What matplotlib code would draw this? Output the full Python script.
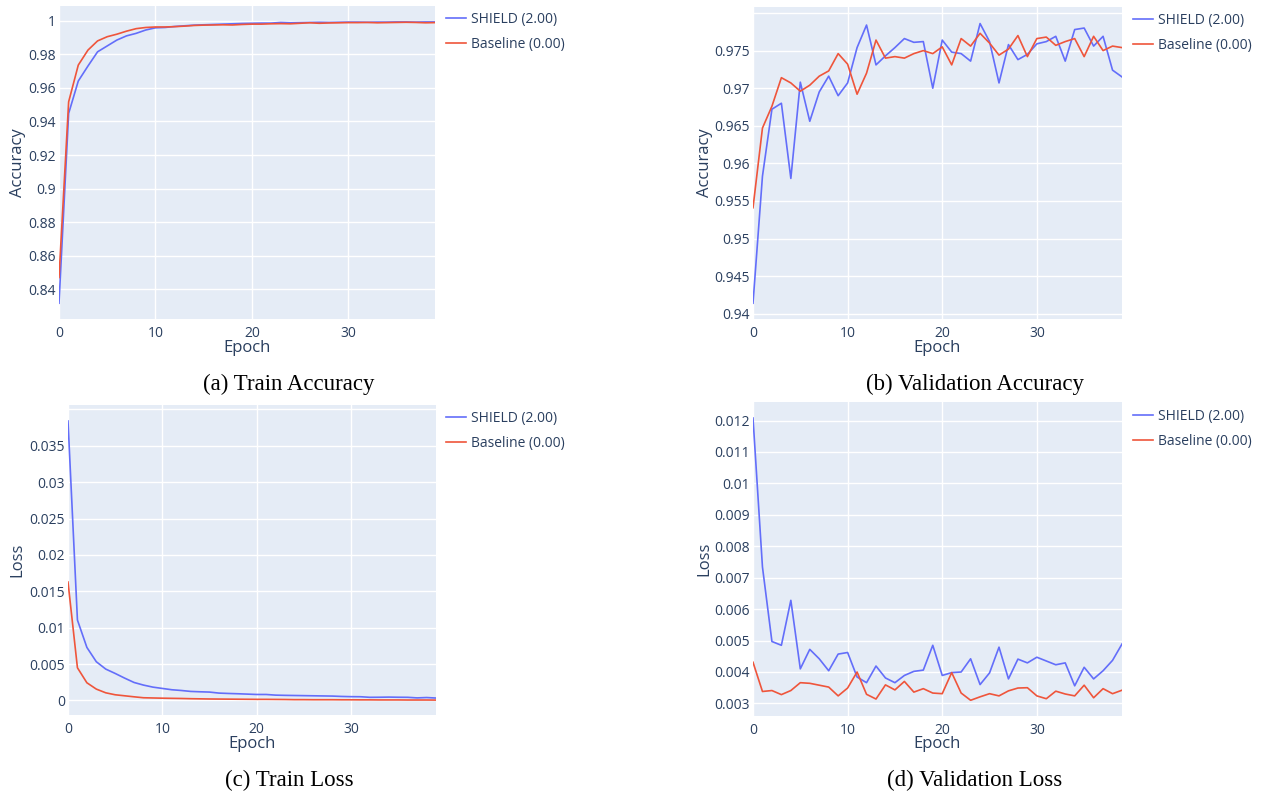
import matplotlib
matplotlib.use("Agg")
import matplotlib.pyplot as plt
from matplotlib.ticker import FuncFormatter, MultipleLocator

W, H = 1263, 796

epochs = list(range(40))

train_acc_shield = [0.8317, 0.9448, 0.9641, 0.9730, 0.9815, 0.9850, 0.9885, 0.9910, 0.9925, 0.9945,
                    0.9958, 0.9960, 0.9966, 0.9970, 0.9974, 0.9976, 0.9978, 0.9980, 0.9982, 0.9984,
                    0.9985, 0.9986, 0.9986, 0.9990, 0.9988, 0.9989, 0.9990, 0.9991, 0.9990, 0.9991,
                    0.9992, 0.9992, 0.9991, 0.9992, 0.9992, 0.9993, 0.9993, 0.9992, 0.9993, 0.9993]
train_acc_base = [0.8470, 0.9517, 0.9736, 0.9825, 0.9880, 0.9905, 0.9920, 0.9938, 0.9953, 0.9960,
                  0.9963, 0.9963, 0.9965, 0.9968, 0.9972, 0.9974, 0.9975, 0.9976, 0.9975, 0.9978,
                  0.9980, 0.9980, 0.9982, 0.9983, 0.9982, 0.9985, 0.9988, 0.9985, 0.9987, 0.9988,
                  0.9989, 0.9989, 0.9990, 0.9988, 0.9989, 0.9990, 0.9991, 0.9990, 0.9988, 0.9989]

val_acc_shield = [0.9414, 0.9583, 0.9672, 0.9680, 0.9580, 0.9708, 0.9656, 0.9695, 0.9716, 0.9690,
                  0.9707, 0.9754, 0.9784, 0.9731, 0.9743, 0.9754, 0.9766, 0.9761, 0.9762, 0.9700,
                  0.9764, 0.9748, 0.9746, 0.9736, 0.9786, 0.9762, 0.9707, 0.9758, 0.9738, 0.9745,
                  0.9759, 0.9762, 0.9769, 0.9736, 0.9778, 0.9780, 0.9756, 0.9769, 0.9724, 0.9715]
val_acc_base = [0.9541, 0.9647, 0.9676, 0.9714, 0.9707, 0.9696, 0.9704, 0.9716, 0.9723, 0.9746,
                0.9732, 0.9692, 0.9720, 0.9764, 0.9740, 0.9742, 0.9740, 0.9746, 0.9750, 0.9746,
                0.9755, 0.9731, 0.9766, 0.9756, 0.9773, 0.9760, 0.9744, 0.9752, 0.9770, 0.9742,
                0.9766, 0.9768, 0.9757, 0.9762, 0.9766, 0.9742, 0.9769, 0.9750, 0.9756, 0.9754]

train_loss_shield = [0.0384, 0.01105, 0.00729, 0.00532, 0.00431, 0.00371, 0.00307, 0.00247, 0.00211, 0.00183,
                     0.00165, 0.00147, 0.00137, 0.00124, 0.00119, 0.00115, 0.00101, 0.00096, 0.00092, 0.00087,
                     0.00082, 0.00082, 0.00073, 0.00070, 0.00068, 0.00066, 0.00064, 0.00062, 0.00060, 0.00055,
                     0.00052, 0.00051, 0.00043, 0.00044, 0.00046, 0.00044, 0.00043, 0.00035, 0.00040, 0.00033]
train_loss_base = [0.01627, 0.00449, 0.00243, 0.00156, 0.00105, 0.00078, 0.00064, 0.00050, 0.00037, 0.00034,
                   0.00031, 0.00029, 0.00027, 0.00024, 0.00022, 0.00020, 0.00019, 0.00018, 0.00017, 0.00016,
                   0.00015, 0.00015, 0.00014, 0.00013, 0.00011, 0.00011, 0.00010, 0.00010, 0.00010, 0.00009,
                   0.00009, 0.00008, 0.00008, 0.00007, 0.00007, 0.00007, 0.00006, 0.00006, 0.00006, 0.00005]

val_loss_shield = [0.01208, 0.00734, 0.00497, 0.00485, 0.00628, 0.00410, 0.00472, 0.00442, 0.00404, 0.00457,
                   0.00462, 0.00384, 0.00366, 0.00419, 0.00381, 0.00366, 0.00389, 0.00402, 0.00406, 0.00485,
                   0.00389, 0.00398, 0.00400, 0.00442, 0.00360, 0.00397, 0.00479, 0.00378, 0.00441, 0.00429,
                   0.00447, 0.00435, 0.00423, 0.00429, 0.00356, 0.00415, 0.00378, 0.00404, 0.00437, 0.00489]
val_loss_base = [0.00431, 0.00338, 0.00341, 0.00328, 0.00341, 0.00366, 0.00364, 0.00358, 0.00352, 0.00324,
                 0.00349, 0.00400, 0.00329, 0.00314, 0.00359, 0.00343, 0.00370, 0.00336, 0.00347, 0.00333,
                 0.00331, 0.00398, 0.00333, 0.00310, 0.00321, 0.00331, 0.00324, 0.00340, 0.00349, 0.00350,
                 0.00324, 0.00315, 0.00339, 0.00330, 0.00324, 0.00358, 0.00318, 0.00347, 0.00331, 0.00342]

series_labels = ["SHIELD (2.00)", "Baseline (0.00)"]
captions = ["(a) Train Accuracy", "(b) Validation Accuracy", "(c) Train Loss", "(d) Validation Loss"]
ylabels = ["Accuracy", "Accuracy", "Loss", "Loss"]

BLUE = "#636EFA"
RED = "#EF553B"
BG = "#E5ECF6"
TXT = "#2a3f5f"
FONT = "Open Sans"

fig = plt.figure(figsize=(W / 100, H / 100), dpi=100)
fig.patch.set_facecolor("white")

# panel boxes in pixels: left, top, right, bottom
boxes = [(59, 6, 435, 319), (753, 7, 1122, 319), (68, 405, 436, 715), (753, 402, 1122, 716)]
ylims = [(0.8223, 1.0088), (0.9393, 0.9808), (-0.0020, 0.0406), (0.00260, 0.01259)]
ysteps = [0.02, 0.005, 0.005, 0.001]
label_max = [1.0, 0.975, 0.035, 0.012]
data = [(train_acc_shield, train_acc_base), (val_acc_shield, val_acc_base),
        (train_loss_shield, train_loss_base), (val_loss_shield, val_loss_base)]
ylabel_x = [18, 705, 17, 704]
xlabel_y = [348, 348, 744, 744]
legend_pos = [(446, 12), (1133, 13), (446, 411), (1133, 409)]
caption_pos = [(289, 384), (975, 384), (289, 780), (975, 780)]


def make_fmt(vmax):
    def fmt(v, pos):
        if v > vmax + 1e-9:
            return ""
        return "%g" % round(v, 6)
    return fmt


for i in range(4):
    l, t, r, b = boxes[i]
    ax = fig.add_axes([l / W, 1 - b / H, (r - l) / W, (b - t) / H])
    ax.set_facecolor(BG)
    for sp in ax.spines.values():
        sp.set_visible(False)
    s_vals, b_vals = data[i]
    ax.plot(epochs, s_vals, color=BLUE, lw=1.2, label=series_labels[0], zorder=3)
    ax.plot(epochs, b_vals, color=RED, lw=1.2, label=series_labels[1], zorder=3)
    ax.set_xlim(0, 39)
    ax.set_ylim(*ylims[i])
    ax.xaxis.set_major_locator(MultipleLocator(10))
    ax.yaxis.set_major_locator(MultipleLocator(ysteps[i]))
    ax.yaxis.set_major_formatter(FuncFormatter(make_fmt(label_max[i])))
    ax.grid(True, color="white", lw=1.0, zorder=0)
    ax.set_axisbelow(True)
    ax.tick_params(length=0, labelsize=10, labelcolor=TXT)
    ax.tick_params(axis="y", pad=2)
    ax.tick_params(axis="x", pad=5)
    for lab in ax.get_xticklabels() + ax.get_yticklabels():
        lab.set_fontfamily(FONT)
    ax.set_xlabel("Epoch", fontsize=12, color=TXT, fontfamily=FONT, va="center")
    ax.set_ylabel(ylabels[i], fontsize=12, color=TXT, fontfamily=FONT, va="center")
    ax.xaxis.set_label_coords(0.5, (b - xlabel_y[i]) / (b - t))
    ax.yaxis.set_label_coords((ylabel_x[i] - l) / (r - l), 0.5)
    lx, ly = legend_pos[i]
    leg = ax.legend(loc="upper left", bbox_to_anchor=(lx / W, 1 - ly / H),
                    bbox_transform=fig.transFigure, frameon=False,
                    prop={"family": FONT, "size": 10}, handlelength=1.45,
                    handletextpad=0.35, labelspacing=0.72, borderpad=0, borderaxespad=0)
    for txt in leg.get_texts():
        txt.set_color(TXT)
    cx, cy = caption_pos[i]
    fig.text(cx / W, 1 - cy / H, captions[i], ha="center", va="center",
             fontsize=16.5, family="Liberation Serif", color="black")

fig.savefig("out.png", dpi=100)
